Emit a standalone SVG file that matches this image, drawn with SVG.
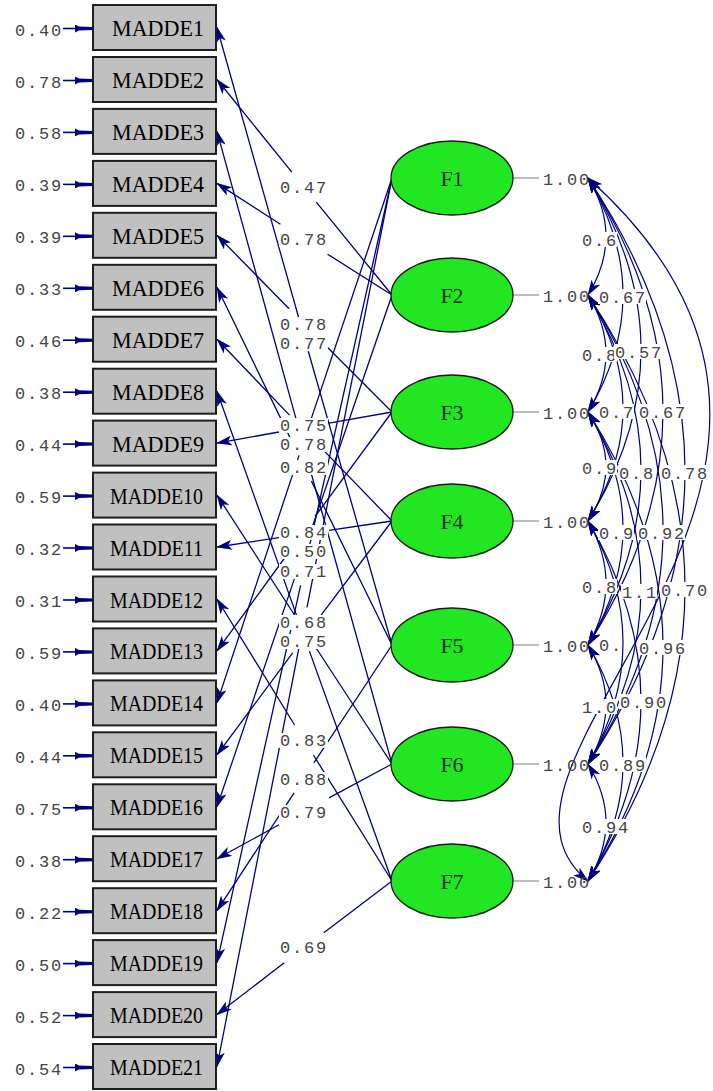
<svg xmlns="http://www.w3.org/2000/svg" width="713" height="1091" viewBox="0 0 713 1091">
<style>
.box{fill:#c0c0c0;stroke:#1e1e1e;stroke-width:2}
.bt{font-family:"Liberation Serif",serif;font-size:24px;fill:#000}
.lat{fill:#22e622;stroke:#1a1a1a;stroke-width:1.3}
.ft{font-family:"Liberation Serif",serif;font-size:22px;fill:#143014;text-anchor:middle}
.ld{fill:none;stroke:#000080;stroke-width:1.3;marker-end:url(#ah)}
.cv{fill:none;stroke:#000080;stroke-width:1.2;marker-start:url(#ah2);marker-end:url(#ah2)}
.er{stroke:#000080;stroke-width:1.6;marker-end:url(#ahe)}
.var{stroke:#909090;stroke-width:1.2}
.num{font-family:"Liberation Mono",monospace;font-size:17px;fill:#454545;letter-spacing:1.8px}
.bg{fill:#fff}
</style>
<defs>
<marker id="ah" markerUnits="userSpaceOnUse" markerWidth="16" markerHeight="10" refX="15" refY="5" orient="auto"><path d="M0,0 L16,5 L0,10 L4,5 z" fill="#000080"/></marker>
<marker id="ah2" markerUnits="userSpaceOnUse" markerWidth="16" markerHeight="10" refX="15" refY="5" orient="auto-start-reverse"><path d="M0,0 L16,5 L0,10 L4,5 z" fill="#000080"/></marker>
<marker id="ahe" markerUnits="userSpaceOnUse" markerWidth="18" markerHeight="8" refX="18" refY="4" orient="auto"><path d="M0,0 L4,2 L18,2.5 L18,5.5 L4,6 L0,8 z" fill="#000080"/></marker>
</defs>
<rect width="713" height="1091" fill="#fff"/>

<g id="connectors">
<g id="errors">
<line class="er" x1="63" y1="28.5" x2="93" y2="28.5"/>
<line class="er" x1="63" y1="80.5" x2="93" y2="80.5"/>
<line class="er" x1="63" y1="132.4" x2="93" y2="132.4"/>
<line class="er" x1="63" y1="184.4" x2="93" y2="184.4"/>
<line class="er" x1="63" y1="236.3" x2="93" y2="236.3"/>
<line class="er" x1="63" y1="288.3" x2="93" y2="288.3"/>
<line class="er" x1="63" y1="340.2" x2="93" y2="340.2"/>
<line class="er" x1="63" y1="392.2" x2="93" y2="392.2"/>
<line class="er" x1="63" y1="444.1" x2="93" y2="444.1"/>
<line class="er" x1="63" y1="496.1" x2="93" y2="496.1"/>
<line class="er" x1="63" y1="548" x2="93" y2="548"/>
<line class="er" x1="63" y1="600" x2="93" y2="600"/>
<line class="er" x1="63" y1="651.9" x2="93" y2="651.9"/>
<line class="er" x1="63" y1="703.9" x2="93" y2="703.9"/>
<line class="er" x1="63" y1="755.8" x2="93" y2="755.8"/>
<line class="er" x1="63" y1="807.8" x2="93" y2="807.8"/>
<line class="er" x1="63" y1="859.7" x2="93" y2="859.7"/>
<line class="er" x1="63" y1="911.7" x2="93" y2="911.7"/>
<line class="er" x1="63" y1="963.6" x2="93" y2="963.6"/>
<line class="er" x1="63" y1="1015.6" x2="93" y2="1015.6"/>
<line class="er" x1="63" y1="1067.5" x2="93" y2="1067.5"/>
</g>
<g id="loadings">
<path class="ld" d="M392,645 L308.3,351.3 M299.7,321.3 L217,27.5"/>
<path class="ld" d="M392,295 L316.3,202.2 M291.8,172.2 L217,79.5"/>
<path class="ld" d="M392,764 L308.2,462.7 M299.8,432.7 L217,131.4"/>
<path class="ld" d="M392,295 L327.6,254.2 M280.4,224.2 L217,183.4"/>
<path class="ld" d="M392,412 L318.9,338.7 M289.1,308.7 L217,235.3"/>
<path class="ld" d="M392,645 L311.4,481.1 M296.6,451.1 L217,287.3"/>
<path class="ld" d="M392,521 L318.5,445.1 M289.5,415.1 L217,339.2"/>
<path class="ld" d="M392,881 L309.4,651.1 M298.6,621.1 L217,391.2"/>
<path class="ld" d="M392,412 L329,423.1 M279,432 L217,443.1"/>
<path class="ld" d="M392,764 L313.8,644.5 M294.2,614.5 L217,495.1"/>
<path class="ld" d="M392,521 L329,530.3 M279,537.7 L217,547"/>
<path class="ld" d="M392,881 L313.4,755 M294.6,725 L217,599"/>
<path class="ld" d="M392,412 L315.1,516.5 M293,546.5 L217,650.9"/>
<path class="ld" d="M392,178 L309,425.4 M299,455.4 L217,702.9"/>
<path class="ld" d="M392,521 L315.3,622.9 M292.7,652.9 L217,754.8"/>
<path class="ld" d="M392,295 L309.2,535.9 M298.8,565.9 L217,806.8"/>
<path class="ld" d="M392,764 L329,797.9 M279,824.8 L217,858.7"/>
<path class="ld" d="M392,645 L313.9,762.8 M294.1,792.8 L217,910.7"/>
<path class="ld" d="M392,178 L307.4,555.3 M300.6,585.3 L217,962.6"/>
<path class="ld" d="M392,881 L323.8,932.8 M284.2,962.8 L217,1014.6"/>
<path class="ld" d="M392,178 L307,607.3 M301,637.3 L217,1066.5"/>
</g>
<g id="variances">
<line class="var" x1="513" y1="178" x2="539" y2="178"/>
<line class="var" x1="513" y1="295" x2="539" y2="295"/>
<line class="var" x1="513" y1="412" x2="539" y2="412"/>
<line class="var" x1="513" y1="521" x2="539" y2="521"/>
<line class="var" x1="513" y1="645" x2="539" y2="645"/>
<line class="var" x1="513" y1="764" x2="539" y2="764"/>
<line class="var" x1="513" y1="881" x2="539" y2="881"/>
</g>
<g id="correlations">
<path class="cv" d="M588,178 Q624,236.5 588,295"/>
<path class="cv" d="M588,295 Q624,353.5 588,412"/>
<path class="cv" d="M588,412 Q624,466.5 588,521"/>
<path class="cv" d="M588,521 Q624,583 588,645"/>
<path class="cv" d="M588,645 Q624,704.5 588,764"/>
<path class="cv" d="M588,764 Q624,822.5 588,881"/>
<path class="cv" d="M588,178 Q658,295 588,412"/>
<path class="cv" d="M588,295 Q658,408 588,521"/>
<path class="cv" d="M588,412 Q658,528.5 588,645"/>
<path class="cv" d="M588,521 Q658,642.5 588,764"/>
<path class="cv" d="M588,645 Q658,763 588,881"/>
<path class="cv" d="M588,178 Q694,349.5 588,521"/>
<path class="cv" d="M588,295 Q694,470 588,645"/>
<path class="cv" d="M588,412 Q694,588 588,764"/>
<path class="cv" d="M588,521 Q694,701 588,881"/>
<path class="cv" d="M588,178 Q738,411.5 588,645"/>
<path class="cv" d="M588,295 Q738,529.5 588,764"/>
<path class="cv" d="M588,412 Q738,646.5 588,881"/>
<path class="cv" d="M588,178 Q782,471 588,764"/>
<path class="cv" d="M588,295 Q782,588 588,881"/>
<path class="cv" d="M588,178 C925,480 440,760 588,881"/>
</g>
</g>

<g id="MADDE1"><rect class="box" x="93" y="5" width="123" height="45"/><text class="bt" x="112" y="36" textLength="92" lengthAdjust="spacingAndGlyphs">MADDE1</text></g>
<g id="MADDE2"><rect class="box" x="93" y="57" width="123" height="45"/><text class="bt" x="112" y="88" textLength="92" lengthAdjust="spacingAndGlyphs">MADDE2</text></g>
<g id="MADDE3"><rect class="box" x="93" y="108.9" width="123" height="45"/><text class="bt" x="112" y="139.9" textLength="92" lengthAdjust="spacingAndGlyphs">MADDE3</text></g>
<g id="MADDE4"><rect class="box" x="93" y="160.9" width="123" height="45"/><text class="bt" x="112" y="191.9" textLength="92" lengthAdjust="spacingAndGlyphs">MADDE4</text></g>
<g id="MADDE5"><rect class="box" x="93" y="212.8" width="123" height="45"/><text class="bt" x="112" y="243.8" textLength="92" lengthAdjust="spacingAndGlyphs">MADDE5</text></g>
<g id="MADDE6"><rect class="box" x="93" y="264.8" width="123" height="45"/><text class="bt" x="112" y="295.8" textLength="92" lengthAdjust="spacingAndGlyphs">MADDE6</text></g>
<g id="MADDE7"><rect class="box" x="93" y="316.7" width="123" height="45"/><text class="bt" x="112" y="347.7" textLength="92" lengthAdjust="spacingAndGlyphs">MADDE7</text></g>
<g id="MADDE8"><rect class="box" x="93" y="368.7" width="123" height="45"/><text class="bt" x="112" y="399.7" textLength="92" lengthAdjust="spacingAndGlyphs">MADDE8</text></g>
<g id="MADDE9"><rect class="box" x="93" y="420.6" width="123" height="45"/><text class="bt" x="112" y="451.6" textLength="92" lengthAdjust="spacingAndGlyphs">MADDE9</text></g>
<g id="MADDE10"><rect class="box" x="93" y="472.6" width="123" height="45"/><text class="bt" x="110" y="503.6" textLength="93" lengthAdjust="spacingAndGlyphs">MADDE10</text></g>
<g id="MADDE11"><rect class="box" x="93" y="524.5" width="123" height="45"/><text class="bt" x="110" y="555.5" textLength="93" lengthAdjust="spacingAndGlyphs">MADDE11</text></g>
<g id="MADDE12"><rect class="box" x="93" y="576.5" width="123" height="45"/><text class="bt" x="110" y="607.5" textLength="93" lengthAdjust="spacingAndGlyphs">MADDE12</text></g>
<g id="MADDE13"><rect class="box" x="93" y="628.4" width="123" height="45"/><text class="bt" x="110" y="659.4" textLength="93" lengthAdjust="spacingAndGlyphs">MADDE13</text></g>
<g id="MADDE14"><rect class="box" x="93" y="680.4" width="123" height="45"/><text class="bt" x="110" y="711.4" textLength="93" lengthAdjust="spacingAndGlyphs">MADDE14</text></g>
<g id="MADDE15"><rect class="box" x="93" y="732.3" width="123" height="45"/><text class="bt" x="110" y="763.3" textLength="93" lengthAdjust="spacingAndGlyphs">MADDE15</text></g>
<g id="MADDE16"><rect class="box" x="93" y="784.3" width="123" height="45"/><text class="bt" x="110" y="815.3" textLength="93" lengthAdjust="spacingAndGlyphs">MADDE16</text></g>
<g id="MADDE17"><rect class="box" x="93" y="836.2" width="123" height="45"/><text class="bt" x="110" y="867.2" textLength="93" lengthAdjust="spacingAndGlyphs">MADDE17</text></g>
<g id="MADDE18"><rect class="box" x="93" y="888.2" width="123" height="45"/><text class="bt" x="110" y="919.2" textLength="93" lengthAdjust="spacingAndGlyphs">MADDE18</text></g>
<g id="MADDE19"><rect class="box" x="93" y="940.1" width="123" height="45"/><text class="bt" x="110" y="971.1" textLength="93" lengthAdjust="spacingAndGlyphs">MADDE19</text></g>
<g id="MADDE20"><rect class="box" x="93" y="992.1" width="123" height="45"/><text class="bt" x="110" y="1023.1" textLength="93" lengthAdjust="spacingAndGlyphs">MADDE20</text></g>
<g id="MADDE21"><rect class="box" x="93" y="1044" width="123" height="45"/><text class="bt" x="110" y="1075" textLength="93" lengthAdjust="spacingAndGlyphs">MADDE21</text></g>

<g id="F1"><ellipse class="lat" cx="452" cy="178" rx="61" ry="37"/><text class="ft" x="452" y="186">F1</text></g>
<g id="F2"><ellipse class="lat" cx="452" cy="295" rx="61" ry="37"/><text class="ft" x="452" y="303">F2</text></g>
<g id="F3"><ellipse class="lat" cx="452" cy="412" rx="61" ry="37"/><text class="ft" x="452" y="420">F3</text></g>
<g id="F4"><ellipse class="lat" cx="452" cy="521" rx="61" ry="37"/><text class="ft" x="452" y="529">F4</text></g>
<g id="F5"><ellipse class="lat" cx="452" cy="645" rx="61" ry="37"/><text class="ft" x="452" y="653">F5</text></g>
<g id="F6"><ellipse class="lat" cx="452" cy="764" rx="61" ry="37"/><text class="ft" x="452" y="772">F6</text></g>
<g id="F7"><ellipse class="lat" cx="452" cy="881" rx="61" ry="37"/><text class="ft" x="452" y="889">F7</text></g>

<g id="error-labels" class="num">
<text x="15" y="35.5">0.40</text>
<text x="15" y="87.5">0.78</text>
<text x="15" y="139.4">0.58</text>
<text x="15" y="191.4">0.39</text>
<text x="15" y="243.3">0.39</text>
<text x="15" y="295.3">0.33</text>
<text x="15" y="347.2">0.46</text>
<text x="15" y="399.2">0.38</text>
<text x="15" y="451.1">0.44</text>
<text x="15" y="503.1">0.59</text>
<text x="15" y="555">0.32</text>
<text x="15" y="607">0.31</text>
<text x="15" y="658.9">0.59</text>
<text x="15" y="710.9">0.40</text>
<text x="15" y="762.8">0.44</text>
<text x="15" y="814.8">0.75</text>
<text x="15" y="866.7">0.38</text>
<text x="15" y="918.7">0.22</text>
<text x="15" y="970.6">0.50</text>
<text x="15" y="1022.6">0.52</text>
<text x="15" y="1074.5">0.54</text>
</g>

<g id="variance-labels" class="num">
<text x="543" y="185">1.00</text>
<text x="543" y="302">1.00</text>
<text x="543" y="419">1.00</text>
<text x="543" y="528">1.00</text>
<text x="543" y="652">1.00</text>
<text x="543" y="771">1.00</text>
<text x="543" y="888">1.00</text>
</g>

<g id="loading-labels">
<rect class="bg" x="279" y="336" width="49" height="15"/><text class="num" x="280" y="349">0.77</text>
<rect class="bg" x="279" y="180" width="49" height="15"/><text class="num" x="280" y="193">0.47</text>
<rect class="bg" x="279" y="232" width="49" height="15"/><text class="num" x="280" y="245">0.78</text>
<rect class="bg" x="279" y="317" width="49" height="16"/><text class="num" x="280" y="330">0.78</text>
<rect class="bg" x="279" y="418" width="49" height="15"/><text class="num" x="280" y="431">0.75</text>
<rect class="bg" x="279" y="437" width="49" height="15"/><text class="num" x="280" y="450">0.78</text>
<rect class="bg" x="279" y="460" width="49" height="15"/><text class="num" x="280" y="473">0.82</text>
<rect class="bg" x="279" y="525" width="49" height="15"/><text class="num" x="280" y="538">0.84</text>
<rect class="bg" x="279" y="544" width="49" height="15"/><text class="num" x="280" y="557">0.50</text>
<rect class="bg" x="279" y="564" width="49" height="15"/><text class="num" x="280" y="577">0.71</text>
<rect class="bg" x="279" y="634" width="49" height="15"/><text class="num" x="280" y="647">0.75</text>
<rect class="bg" x="279" y="615" width="49" height="15"/><text class="num" x="280" y="628">0.68</text>
<rect class="bg" x="279" y="733" width="49" height="15"/><text class="num" x="280" y="746">0.83</text>
<rect class="bg" x="279" y="772" width="49" height="15"/><text class="num" x="280" y="785">0.88</text>
<rect class="bg" x="279" y="805" width="49" height="15"/><text class="num" x="280" y="818">0.79</text>
<rect class="bg" x="279" y="940" width="49" height="15"/><text class="num" x="280" y="953">0.69</text>
</g>

<g id="correlation-labels">
<rect class="bg" x="581" y="232" width="36" height="15"/><text class="num" x="582" y="246">0.6</text>
<rect class="bg" x="581" y="347" width="36" height="15"/><text class="num" x="582" y="361">0.8</text>
<rect class="bg" x="581" y="460" width="36" height="15"/><text class="num" x="582" y="474">0.9</text>
<rect class="bg" x="581" y="579" width="36" height="15"/><text class="num" x="582" y="593">0.8</text>
<rect class="bg" x="581" y="699" width="36" height="15"/><text class="num" x="582" y="713">1.0</text>
<rect class="bg" x="581" y="819" width="48" height="15"/><text class="num" x="582" y="833">0.94</text>
<rect class="bg" x="598" y="289" width="48" height="15"/><text class="num" x="599" y="303">0.67</text>
<rect class="bg" x="598" y="404" width="36" height="15"/><text class="num" x="599" y="418">0.7</text>
<rect class="bg" x="598" y="525" width="36" height="15"/><text class="num" x="599" y="539">0.9</text>
<rect class="bg" x="598" y="637" width="24" height="15"/><text class="num" x="599" y="651">0.</text>
<rect class="bg" x="598" y="757" width="48" height="15"/><text class="num" x="599" y="771">0.89</text>
<rect class="bg" x="614" y="344" width="48" height="15"/><text class="num" x="615" y="358">0.57</text>
<rect class="bg" x="618" y="465" width="36" height="15"/><text class="num" x="619" y="479">0.8</text>
<rect class="bg" x="621" y="584" width="36" height="15"/><text class="num" x="622" y="598">1.1</text>
<rect class="bg" x="619" y="694" width="48" height="15"/><text class="num" x="620" y="708">0.90</text>
<rect class="bg" x="638" y="404" width="48" height="15"/><text class="num" x="639" y="418">0.67</text>
<rect class="bg" x="637" y="525" width="48" height="15"/><text class="num" x="638" y="539">0.92</text>
<rect class="bg" x="638" y="640" width="48" height="15"/><text class="num" x="639" y="654">0.96</text>
<rect class="bg" x="660" y="465" width="48" height="15"/><text class="num" x="661" y="479">0.78</text>
<rect class="bg" x="660" y="582" width="48" height="15"/><text class="num" x="661" y="596">0.70</text>
</g>
</svg>
